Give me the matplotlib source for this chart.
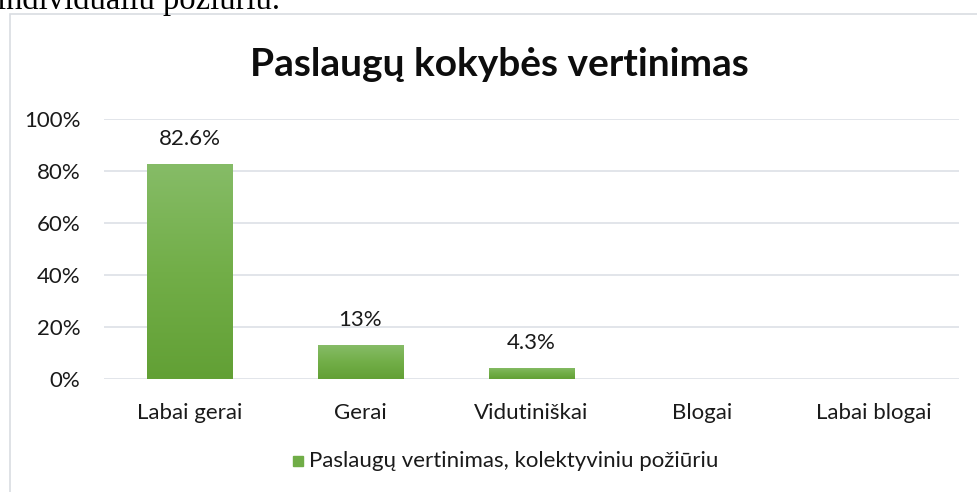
import numpy as np
import matplotlib.pyplot as plt
from matplotlib.patches import Rectangle
from matplotlib.colors import LinearSegmentedColormap

## Data
categories = ['Labai gerai', 'Gerai', 'Vidutiniškai', 'Blogai', 'Labai blogai']
values = [82.6, 13, 4.3, 0, 0]
value_labels = ['82.6%', '13%', '4.3%', '', '']
y_ticks = [0, 20, 40, 60, 80, 100]
series_name = 'Paslaugų vertinimas, kolektyviniu požiūriu'
title = 'Paslaugų kokybės vertinimas'

fam = ['Lato', 'DejaVu Sans']
plt.rcParams['font.family'] = fam

W, H = 978, 492
fig = plt.figure(figsize=(W / 100, H / 100), dpi=100)

def px(x0, y0, x1, y1):
    # pixel box (top-left origin) -> figure fraction rect
    return [x0 / W, 1 - y1 / H, (x1 - x0) / W, (y1 - y0) / H]

## chart frame and the cut-off document line above
fig.patches.append(Rectangle((10 / W, -0.1), 1.2, 1 - 14 / H + 0.1,
                             transform=fig.transFigure, fill=False,
                             edgecolor='#d9dde2', linewidth=1.2))
fig.text(-3 / W, 1 - 9 / H, 'individualiu požiūriu.', family='Liberation Serif',
         fontsize=23.5, color='black', va='baseline', ha='left')

ax = fig.add_axes(px(104, 119, 959, 379))
x = np.arange(len(categories))

cmap = LinearSegmentedColormap.from_list('g', ['#62a035', '#72ae48', '#86bc67'])
grad = np.linspace(0, 1, 256).reshape(-1, 1)
bars = ax.bar(x, values, width=0.5, color='#70ad47', zorder=3)
for b in bars:
    if b.get_height() <= 0:
        continue
    im = ax.imshow(grad, cmap=cmap, origin='lower', aspect='auto', zorder=3,
                   extent=[b.get_x(), b.get_x() + b.get_width(), 0, b.get_height()])
    im.set_clip_path(b)
ax.set_xlim(-0.5, len(categories) - 0.5)
ax.set_ylim(0, 100)

for xi, v, lab in zip(x, values, value_labels):
    if lab:
        ax.annotate(lab, (xi, v), xytext=(0, 11), textcoords='offset points',
                    ha='center', va='bottom', fontsize=16, color='#1a1a1a')

ax.set_yticks(y_ticks)
ax.set_yticklabels([f'{t}%' for t in y_ticks])
ax.set_xticks(x)
ax.set_xticklabels(categories)
ax.tick_params(length=0, labelsize=16, colors='#1a1a1a')
ax.tick_params(axis='y', pad=17)
ax.tick_params(axis='x', pad=17)
ax.grid(axis='y', color='#dfe3e8', linewidth=1.3, zorder=0)
for s in ax.spines.values():
    s.set_visible(False)

fig.text(499 / W, 1 - 65 / H, title, ha='center', va='center',
         fontsize=28, fontweight='bold', color='#0d0d0d')

## legend
fig.patches.append(Rectangle((293 / W, 1 - 466 / H), 10 / W, 10 / H,
                             transform=fig.transFigure, color='#70ad47'))
fig.text(309 / W, 1 - 461 / H, series_name, ha='left', va='center',
         fontsize=16, color='#1a1a1a')

fig.savefig('out.png', dpi=100)
